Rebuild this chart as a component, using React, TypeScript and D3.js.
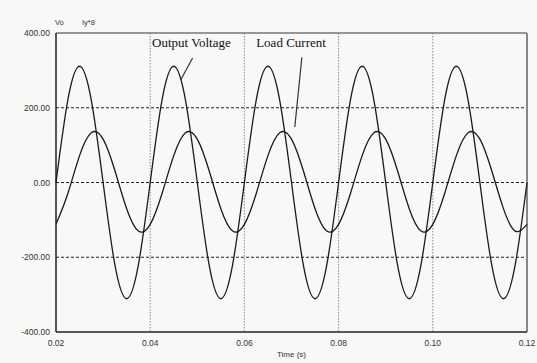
import React, { useRef, useEffect } from 'react'
import * as d3 from 'd3'

// samples every 0.0025 s
const times = [
  0.02, 0.0225, 0.025, 0.0275, 0.03, 0.0325, 0.035, 0.0375,
  0.04, 0.0425, 0.045, 0.0475, 0.05, 0.0525, 0.055, 0.0575,
  0.06, 0.0625, 0.065, 0.0675, 0.07, 0.0725, 0.075, 0.0775,
  0.08, 0.0825, 0.085, 0.0875, 0.09, 0.0925, 0.095, 0.0975,
  0.1, 0.1025, 0.105, 0.1075, 0.11, 0.1125, 0.115, 0.1175, 0.12
]
const outputVoltage = [
  0, 220, 311, 220, 0, -220, -311, -220,
  0, 220, 311, 220, 0, -220, -311, -220,
  0, 220, 311, 220, 0, -220, -311, -220,
  0, 220, 311, 220, 0, -220, -311, -220,
  0, 220, 311, 220, 0, -220, -311, -220, 0
]
const loadCurrent = [
  -112, -30, 72, 133, 116, 32, -70, -130,
  -112, -30, 72, 133, 116, 32, -70, -130,
  -112, -30, 72, 133, 116, 32, -70, -130,
  -112, -30, 72, 133, 116, 32, -70, -130,
  -112, -30, 72, 133, 116, 32, -70, -130, -112
]
const xTicks = [0.02, 0.04, 0.06, 0.08, 0.1, 0.12]
const yTicks = [-400, -200, 0, 200, 400]
const labels = [
  { text: 'Output Voltage', t: 0.0404, v: 362, line: [[0.049, 333], [0.0465, 275]] },
  { text: 'Load Current', t: 0.0625, v: 362, line: [[0.0722, 335], [0.0707, 148]] }
]

export default function App() {
  const ref = useRef<SVGGElement>(null)
  const width = 537
  const height = 363
  const margin = { top: 33, right: 10, bottom: 31, left: 56 }
  const bodyWidth = width - margin.left - margin.right
  const bodyHeight = height - margin.top - margin.bottom
  const sans = 'Arial, "Liberation Sans", sans-serif'

  useEffect(() => {
    const g = d3.select(ref.current)
    g.selectAll('*').remove()

    const x = d3.scaleLinear().domain([0.02, 0.12]).range([0, bodyWidth])
    const y = d3.scaleLinear().domain([-400, 400]).range([bodyHeight, 0])

    // vertical dotted grid
    g.selectAll('.vgrid')
      .data(xTicks.slice(1, -1))
      .enter()
      .append('line')
      .attr('x1', d => x(d))
      .attr('x2', d => x(d))
      .attr('y1', 0)
      .attr('y2', bodyHeight)
      .attr('stroke', '#888')
      .attr('stroke-width', 1)
      .attr('stroke-dasharray', '1.5,1.5')

    // horizontal dashed grid
    g.selectAll('.hgrid')
      .data(yTicks.slice(1, -1))
      .enter()
      .append('line')
      .attr('x1', 0)
      .attr('x2', bodyWidth)
      .attr('y1', d => y(d))
      .attr('y2', d => y(d))
      .attr('stroke', '#222')
      .attr('stroke-width', 1)
      .attr('stroke-dasharray', '3,2')

    // frame
    g.append('line').attr('x1', 0).attr('x2', bodyWidth).attr('y1', 0).attr('y2', 0)
      .attr('stroke', '#777').attr('stroke-width', 1.5)
    g.append('line').attr('x1', bodyWidth).attr('x2', bodyWidth).attr('y1', 0).attr('y2', bodyHeight)
      .attr('stroke', '#888').attr('stroke-width', 2)
    g.append('line').attr('x1', 0).attr('x2', 0).attr('y1', 0).attr('y2', bodyHeight)
      .attr('stroke', '#222').attr('stroke-width', 1.5)
    g.append('line').attr('x1', 0).attr('x2', bodyWidth).attr('y1', bodyHeight).attr('y2', bodyHeight)
      .attr('stroke', '#222').attr('stroke-width', 1.5)

    // tick labels
    g.selectAll('.ylab')
      .data(yTicks)
      .enter()
      .append('text')
      .attr('x', -6)
      .attr('y', d => y(d) + 3)
      .attr('text-anchor', 'end')
      .attr('font-family', sans)
      .attr('font-size', 8.5)
      .attr('fill', '#333')
      .text(d => d.toFixed(2))

    g.selectAll('.xlab')
      .data(xTicks)
      .enter()
      .append('text')
      .attr('x', d => x(d))
      .attr('y', bodyHeight + 14)
      .attr('text-anchor', 'middle')
      .attr('font-family', sans)
      .attr('font-size', 8.5)
      .attr('fill', '#333')
      .text(d => d.toFixed(2))

    g.append('text')
      .attr('x', bodyWidth / 2)
      .attr('y', bodyHeight + 25)
      .attr('text-anchor', 'middle')
      .attr('font-family', sans)
      .attr('font-size', 8)
      .attr('fill', '#333')
      .text('Time (s)')

    g.append('text').attr('x', -1).attr('y', -8)
      .attr('font-family', sans)
      .attr('font-size', 7.5).attr('fill', '#333').text('Vo')
    g.append('text').attr('x', 26).attr('y', -8)
      .attr('font-family', sans)
      .attr('font-size', 7.5).attr('fill', '#333').text('Iy*8')

    // traces
    const line = d3
      .line<number>()
      .x((d, i) => x(times[i]))
      .y(d => y(d))
      .curve(d3.curveNatural)

    ;[outputVoltage, loadCurrent].forEach(series => {
      g.append('path')
        .datum(series)
        .attr('d', line)
        .attr('fill', 'none')
        .attr('stroke', '#1a1a1a')
        .attr('stroke-width', 1.3)
    })

    // annotations
    labels.forEach(l => {
      g.append('text')
        .attr('x', x(l.t))
        .attr('y', y(l.v))
        .attr('font-family', '"Times New Roman", "Liberation Serif", serif')
        .attr('font-size', 13)
        .attr('fill', '#111')
        .text(l.text)
      g.append('line')
        .attr('x1', x(l.line[0][0]))
        .attr('y1', y(l.line[0][1]))
        .attr('x2', x(l.line[1][0]))
        .attr('y2', y(l.line[1][1]))
        .attr('stroke', '#333')
        .attr('stroke-width', 1.2)
    })
  }, [])

  return (
    <svg
      width={width}
      height={height}
      style={{ position: 'absolute', left: 0, top: 0, background: '#f8f8f8' }}
    >
      <g ref={ref} transform={`translate(${margin.left},${margin.top})`} />
    </svg>
  )
}
